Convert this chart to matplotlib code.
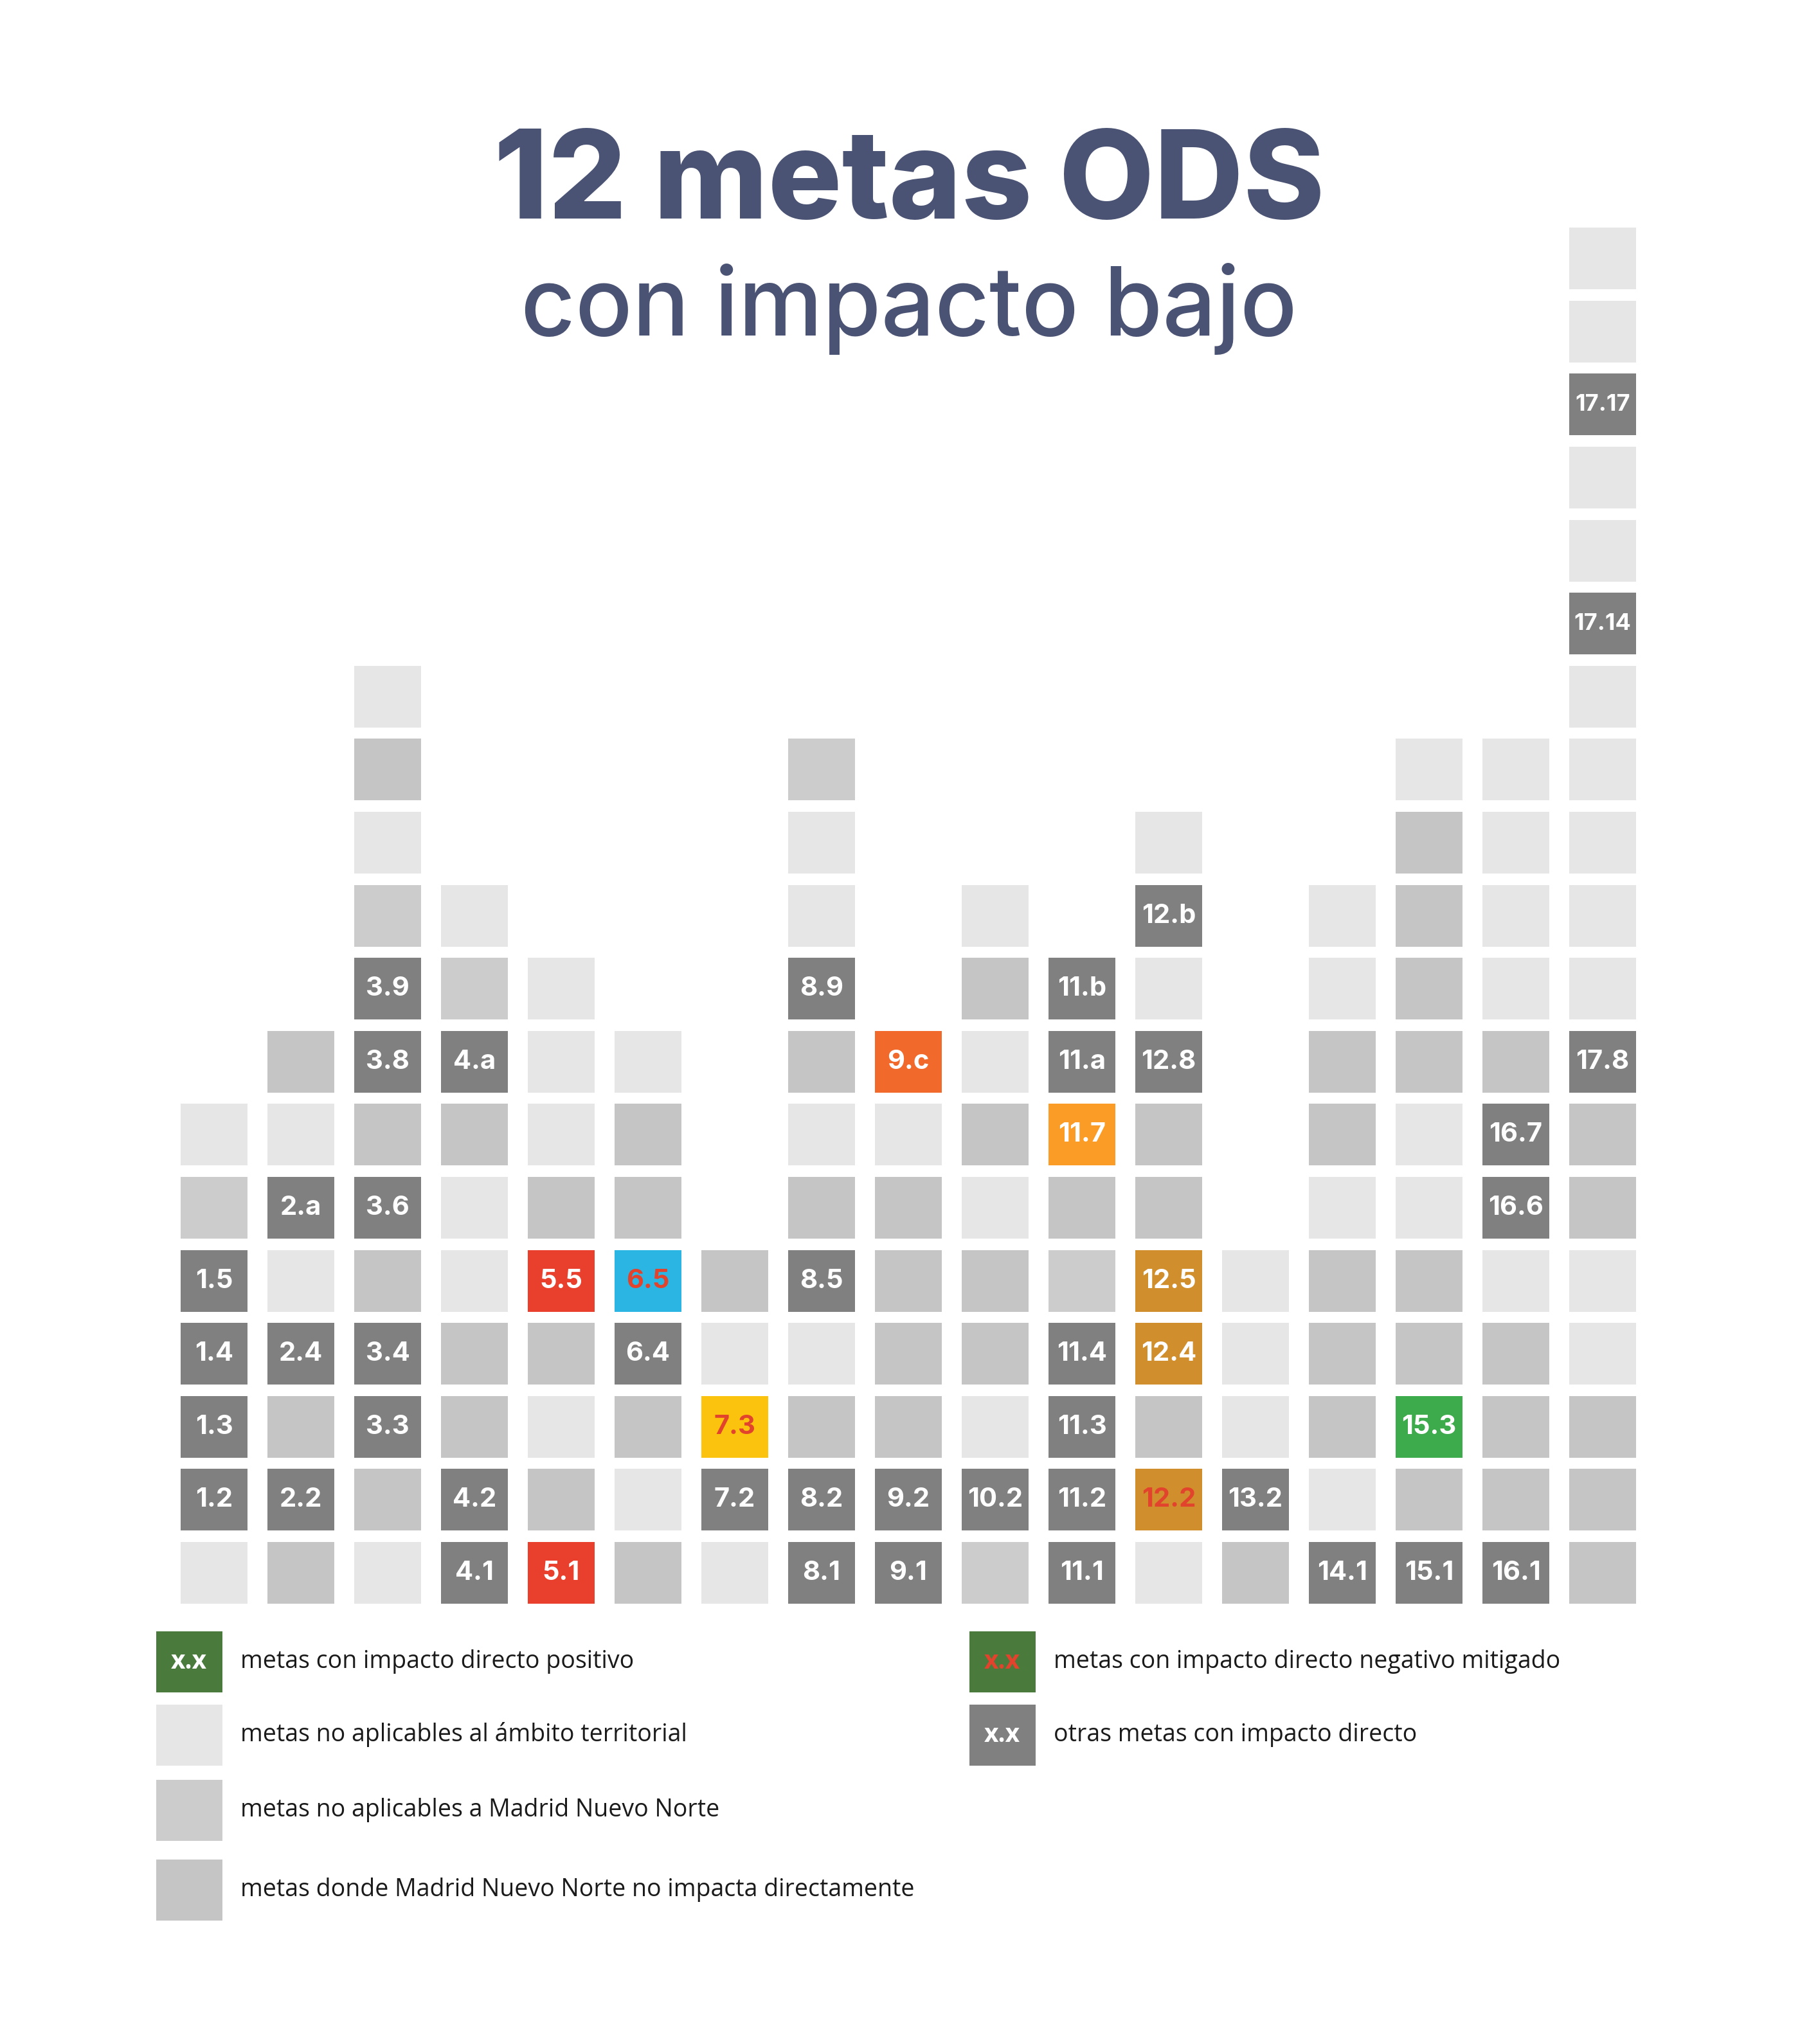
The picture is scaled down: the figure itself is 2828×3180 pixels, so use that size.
import matplotlib
matplotlib.use("Agg")
import matplotlib.pyplot as plt

# Estado de cada meta, de abajo arriba, por ODS
# L = no aplicable al ambito territorial, N = no aplicable a MNN,
# M = MNN no impacta directamente, X = meta con impacto (etiquetada)
ods = list(range(1, 18))
estado = [
    "LXXXXNL",              # ODS 1
    "MXMXLXLM",             # ODS 2
    "LMXXMXMXXNLML",        # ODS 3
    "XXMMLLMXNL",           # ODS 4
    "XMLMXMLLL",            # ODS 5
    "MLMXXMML",             # ODS 6
    "LXXLM",                # ODS 7
    "XXMLXMLMXLLN",         # ODS 8
    "XXMMMMLX",             # ODS 9
    "NXLMMLMLML",           # ODS 10
    "XXXXNMXXX",            # ODS 11
    "LXMXXMMXLXL",          # ODS 12
    "MXLLL",                # ODS 13
    "XLMMMLMMLL",           # ODS 14
    "XMXMMLLMMMML",         # ODS 15
    "XMMMLXXMLLLL",         # ODS 16
    "MMMLLMMXLLLLLXLLXLL",  # ODS 17
]

# etiquetas de las metas con impacto, en el mismo orden
etiquetas = [
    "1.2", "1.3", "1.4", "1.5",
    "2.2", "2.4", "2.a",
    "3.3", "3.4", "3.6", "3.8", "3.9",
    "4.1", "4.2", "4.a",
    "5.1", "5.5",
    "6.4", "6.5",
    "7.2", "7.3",
    "8.1", "8.2", "8.5", "8.9",
    "9.1", "9.2", "9.c",
    "10.2",
    "11.1", "11.2", "11.3", "11.4", "11.7", "11.a", "11.b",
    "12.2", "12.4", "12.5", "12.8", "12.b",
    "13.2",
    "14.1",
    "15.1", "15.3",
    "16.1", "16.6", "16.7",
    "17.8", "17.14", "17.17",
]

# metas con color propio del ODS
color_ods = {
    "5.1": "#E9402E", "5.5": "#E9402E",
    "6.5": "#2BB5E2",
    "7.3": "#FBC30D",
    "9.c": "#F1692B",
    "11.7": "#FA9C26",
    "12.2": "#D08E2D", "12.4": "#D08E2D", "12.5": "#D08E2D",
    "15.3": "#3DAA4B",
}
texto_rojo = ["6.5", "7.3", "12.2"]

leyenda_izq = [
    "metas con impacto directo positivo",
    "metas no aplicables al ámbito territorial",
    "metas no aplicables a Madrid Nuevo Norte",
    "metas donde Madrid Nuevo Norte no impacta directamente",
]
leyenda_der = [
    "metas con impacto directo negativo mitigado",
    "otras metas con impacto directo",
]

GRIS = {"L": "#E6E6E6", "N": "#CCCCCC", "M": "#C5C5C5", "X": "#808080"}
VERDE = "#4A7A3C"
ROJO_TXT = "#E2432C"
AZUL_TITULO = "#4A5373"

W, H = 2828, 3180
fig = plt.figure(figsize=(W / 100, H / 100), dpi=100)
fig.patch.set_facecolor("white")

# ---- titulo ----
fig.text(0.5, 1 - 340 / H, "12 metas ODS", ha="center", va="baseline",
         fontsize=138, fontweight="heavy", family=["Inter", "DejaVu Sans"],
         color=AZUL_TITULO)
fig.text(0.5, 1 - 522 / H, "con impacto bajo", ha="center", va="baseline",
         fontsize=106, fontweight="medium", family=["Inter", "DejaVu Sans"],
         color=AZUL_TITULO)

# ---- rejilla de metas ----
x0, x1 = 265.5, 2560.5
y_top, y_bot = 345.4, 2503.8
ax = fig.add_axes([x0 / W, 1 - y_bot / H, (x1 - x0) / W, (y_bot - y_top) / H])
ax.set_xlim(0.5, 17.5)
ax.set_ylim(0.5, 19.5)
ax.axis("off")

ancho, alto = 0.763, 0.845
k = 0
for n, col in zip(ods, estado):
    for fila, c in enumerate(col, start=1):
        if c == "X":
            lab = etiquetas[k]
            k += 1
            fc = color_ods.get(lab, GRIS["X"])
            ax.bar(n, alto, bottom=fila - alto / 2, width=ancho, color=fc)
            tc = ROJO_TXT if lab in texto_rojo else "white"
            fs = 30 if len(lab) < 5 else 26
            ax.text(n, fila, lab, ha="center", va="center", fontsize=fs,
                    fontweight="bold", color=tc,
                    family=["Inter", "DejaVu Sans"])
        else:
            ax.bar(n, alto, bottom=fila - alto / 2, width=ancho, color=GRIS[c])

# ---- leyenda ----
lg = fig.add_axes([0, 0, 1, 1], zorder=-1)
lg.set_xlim(0, W)
lg.set_ylim(H, 0)
lg.axis("off")

sq_w, sq_h = 103, 95
izq_col = [VERDE, GRIS["L"], GRIS["N"], GRIS["M"]]
izq_y = [2585, 2699, 2816, 2940]
for txt, fc, yc in zip(leyenda_izq, izq_col, izq_y):
    lg.bar(294, sq_h, bottom=yc - sq_h / 2, width=sq_w, color=fc)
    lg.text(374, yc, txt, ha="left", va="center", fontsize=27,
            family="Open Sans", color="#1A1A1A")
lg.text(294, 2585, "x.x", ha="center", va="center", fontsize=28,
        fontweight="bold", family="Open Sans", color="white")

der_col = [VERDE, GRIS["X"]]
der_txt_col = [ROJO_TXT, "white"]
der_y = [2585, 2699]
for txt, fc, tc, yc in zip(leyenda_der, der_col, der_txt_col, der_y):
    lg.bar(1559, sq_h, bottom=yc - sq_h / 2, width=sq_w, color=fc)
    lg.text(1559, yc, "x.x", ha="center", va="center", fontsize=28,
            fontweight="bold", family="Open Sans", color=tc)
    lg.text(1639, yc, txt, ha="left", va="center", fontsize=27,
            family="Open Sans", color="#1A1A1A")

fig.savefig("out.png", dpi=100, facecolor="white")
